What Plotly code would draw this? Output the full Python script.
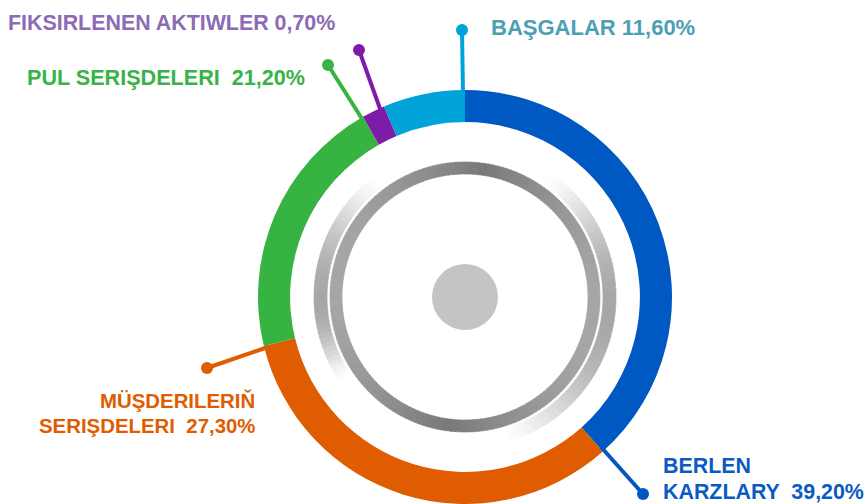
import math
import plotly.graph_objects as go

# ---- data ----
categories = ["BERLEN KARZLARY", "MÜŞDERILERIŇ SERIŞDELERI", "PUL SERIŞDELERI",
              "FIKSIRLENEN AKTIWLER", "BAŞGALAR"]
slice_shares = [38.4, 32.8, 20.6, 1.8, 6.4]          # drawn slice sizes
label_pcts = ["39,20%", "27,30%", "21,20%", "0,70%", "11,60%"]  # printed labels

slice_colors = ["#0058C2", "#E05C00", "#37B341", "#7E1CA9", "#00A3D7"]
text_colors = ["#0A5BC3", "#E05C00", "#38B348", "#8C6BB4", "#4BA0B3"]

W, H = 867, 504
CX, CY = 465, 297
R_OUT = 207

fig = go.Figure()

# invisible trace to create pixel-space axes
fig.add_trace(go.Scatter(x=[0, W], y=[0, H], mode="markers",
                         marker=dict(opacity=0), hoverinfo="skip", showlegend=False))

fig.add_trace(go.Pie(
    labels=categories, values=slice_shares, sort=False, direction="clockwise",
    rotation=0, hole=0.845, marker=dict(colors=slice_colors, line=dict(width=0)),
    textinfo="none", showlegend=False,
    domain=dict(x=[(CX - 210) / W, (CX + 210) / W], y=[0, 2 * R_OUT / H]),
    hovertemplate="%{label}<extra></extra>",
))

shapes = []


def pt(r, a):
    ar = math.radians(a)
    return CX + r * math.sin(ar), CY - r * math.cos(ar)


def seg(r0, r1, a0, a1, color):
    p = [pt(r1, a0), pt(r1, a1), pt(r0, a1), pt(r0, a0)]
    path = "M" + " L".join(f"{x:.2f},{y:.2f}" for x, y in p) + " Z"
    shapes.append(dict(type="path", path=path, xref="x", yref="y",
                       fillcolor=color, line=dict(color=color, width=0.6),
                       layer="below"))


# dark metallic ring
step = 2
for i in range(0, 360, step):
    a = i + step / 2
    g = int(122 + 45 * abs(math.sin(math.radians(a - 8))))
    seg(123, 135, i, i + step + 0.3, f"rgb({g},{g},{g})")

# light fading arcs
for a_start, a_peak, a_end in [(236, 268, 323), (35, 95, 164)]:
    a = a_start
    while a < a_end:
        mid = a + 1
        if mid < a_peak:
            t = (mid - a_start) / (a_peak - a_start)
        else:
            t = (a_end - mid) / (a_end - a_peak)
        w = math.sin(math.pi / 2 * max(0, min(1, t))) ** 1.3
        g = int(255 - 88 * w)
        seg(138, 151, a, min(a + 2.3, a_end), f"rgb({g},{g},{g})")
        a += 2

# center disc
shapes.append(dict(type="circle", xref="x", yref="y", x0=CX - 33, x1=CX + 33,
                   y0=CY - 33, y1=CY + 33, fillcolor="#C4C4C4", line=dict(width=0),
                   layer="below"))

# leader lines with dots
leaders = [
    (0, (601, 447), (643, 494)),
    (1, (268, 347), (207, 368)),
    (2, (364, 122), (328, 65)),
    (3, (383, 117), (359, 50)),
    (4, (463, 94), (462, 30)),
]
for idx, (x0, y0), (x1, y1) in leaders:
    c = slice_colors[idx]
    shapes.append(dict(type="line", xref="x", yref="y", x0=x0, y0=y0, x1=x1, y1=y1,
                       line=dict(color=c, width=4)))
    shapes.append(dict(type="circle", xref="x", yref="y", x0=x1 - 6, x1=x1 + 6,
                       y0=y1 - 6, y1=y1 + 6, fillcolor=c, line=dict(width=0)))

fig.update_layout(shapes=shapes)

FONT = "Liberation Sans, Arial, sans-serif"
FS = 22


def label(text, x, y, anchor, color, size=FS):
    fig.add_annotation(x=x, y=y, xref="x", yref="y", text=f"<b>{text}</b>",
                       showarrow=False, xanchor=anchor, yanchor="middle",
                       font=dict(family=FONT, size=size, color=color))


label(f"{categories[3]} {label_pcts[3]}", 6, 23, "left", text_colors[3], 21.4)
label(f"{categories[2]}  {label_pcts[2]}", 25, 77, "left", text_colors[2], 21.6)
label(f"{categories[4]} {label_pcts[4]}", 489, 27, "left", text_colors[4])
label("MÜŞDERILERIŇ", 257, 400, "right", text_colors[1], 20.4)
label(f"SERIŞDELERI  {label_pcts[1]}", 257, 426, "right", text_colors[1], 20.4)
label("BERLEN", 661, 466, "left", text_colors[0], 21.4)
label(f"KARZLARY  {label_pcts[0]}", 661, 492, "left", text_colors[0], 21.4)

fig.update_layout(
    width=W, height=H, margin=dict(l=0, r=0, t=0, b=0),
    paper_bgcolor="white", plot_bgcolor="white",
    xaxis=dict(range=[0, W], visible=False, fixedrange=True),
    yaxis=dict(range=[H, 0], visible=False, fixedrange=True),
    showlegend=False,
)

fig.write_html("out.html", config={"displayModeBar": False},
               post_script="document.body.style.margin='0';")
